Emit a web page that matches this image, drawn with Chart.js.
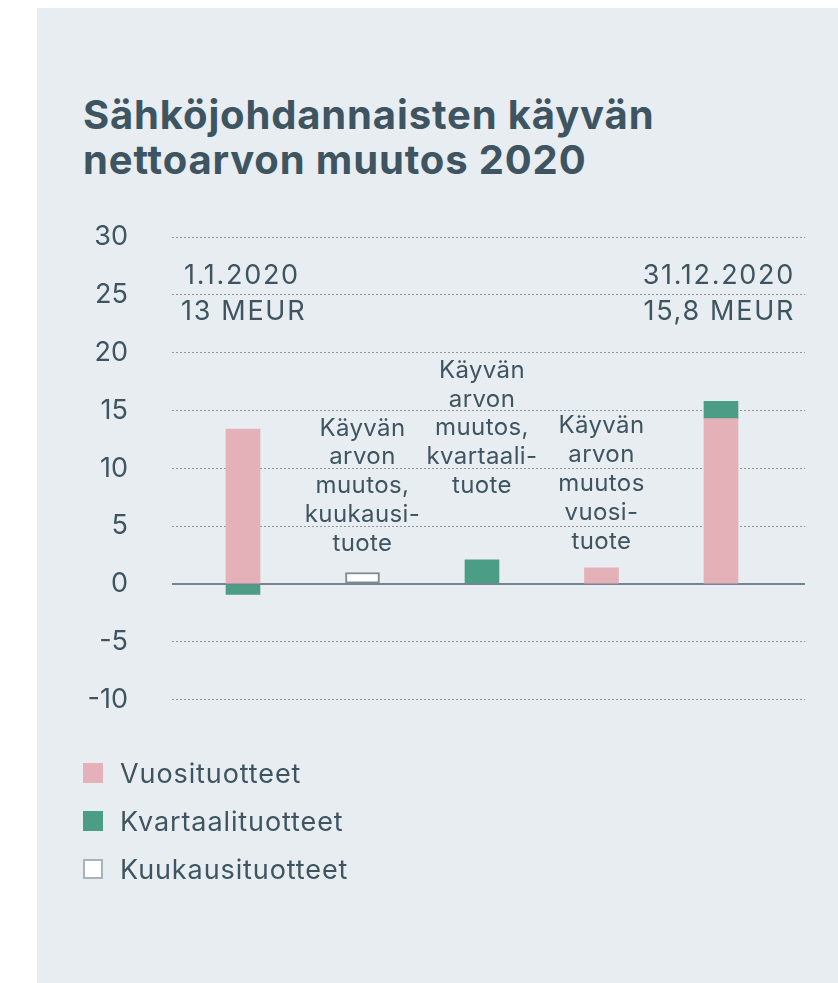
<!DOCTYPE html>
<html>
<head>
<meta charset="utf-8">
<script src="https://cdn.jsdelivr.net/npm/chart.js@4/dist/chart.umd.min.js"></script>
<style>
  body { margin: 0; background: #fff; font-family: Inter, "Noto Sans", sans-serif; color: #3e5561; }
  #panel { position: absolute; left: 37px; top: 8px; width: 801px; height: 975px; background: #e8edf1; }
  #title { position: absolute; left: 83px; top: 92px; font-size: 40px; font-weight: 700; line-height: 45px; letter-spacing: 0.85px; }
  #wrap { position: absolute; left: 0; top: 0; width: 838px; height: 760px; }
  #legend { position: absolute; left: 83px; top: 749px; font-size: 27px; letter-spacing: 0.9px; }
  .item { display: flex; align-items: center; height: 48px; }
  .box { width: 20px; height: 20px; margin-right: 17px; box-sizing: border-box; }
</style>
</head>
<body>
<div id="panel"></div>
<div id="title">Sähköjohdannaisten käyvän<br>nettoarvon muutos 2020</div>
<div id="wrap"><canvas id="chart"></canvas></div>
<div id="legend"></div>
<script>
// values in MEUR
const categories = ['1.1.2020', 'Kuukausituote', 'Kvartaalituote', 'Vuosituote', '31.12.2020'];
const vuosituotteet = [13.4, null, null, 1.4, 14.3];
const kvartaalituotteet = [-0.9, null, 2.1, null, 1.5];
const kuukausituotteet = [null, 1.0, null, null, null];
const yTicks = [30, 25, 20, 15, 10, 5, 0, -5, -10];

const startLabel = ['1.1.2020', '13 MEUR'];
const endLabel = ['31.12.2020', '15,8 MEUR'];
const barNotes = [
    [],
    ['Käyvän', 'arvon', 'muutos,', 'kuukausi-', 'tuote'],
    ['Käyvän', 'arvon', 'muutos,', 'kvartaali-', 'tuote'],
    ['Käyvän', 'arvon', 'muutos', 'vuosi-', 'tuote'],
    []
];

const textColor = '#3e5561';
const pink = '#e5b1b9';
const green = '#4b9d86';

function toPoints(arr) {
    return arr.map((v, i) => ({ x: i + 1, y: v }));
}

// draws the date labels and the notes above the middle bars
const notesPlugin = {
    id: 'notes',
    afterDatasetsDraw(chart) {
        const { ctx, chartArea, scales } = chart;
        const y = scales.y, x = scales.x;
        ctx.save();
        ctx.fillStyle = textColor;
        ctx.font = '27px Inter, "Noto Sans", sans-serif';
        ctx.textBaseline = 'middle';
        ctx.letterSpacing = '1.7px';

        ctx.textAlign = 'left';
        ctx.fillText(startLabel[0], chartArea.left + 12, y.getPixelForValue(26.6));
        ctx.fillText(startLabel[1], chartArea.left + 9, y.getPixelForValue(23.5));
        ctx.textAlign = 'right';
        ctx.fillText(endLabel[0], chartArea.right - 10, y.getPixelForValue(26.6));
        ctx.fillText(endLabel[1], chartArea.right - 10, y.getPixelForValue(23.5));

        // bottom line of each note, in axis units
        const noteBase = [0, 3.5, 8.5, 3.7, 0];
        ctx.textAlign = 'center';
        ctx.letterSpacing = '0.4px';
        ctx.font = '24px Inter, "Noto Sans", sans-serif';
        barNotes.forEach((lines, i) => {
            const cx = x.getPixelForValue(i + 1);
            const base = y.getPixelForValue(noteBase[i]);
            lines.forEach((line, j) => {
                ctx.fillText(line, cx, base - (lines.length - 1 - j) * 28.8);
            });
        });
        ctx.restore();
    }
};

new Chart(document.getElementById('chart'), {
    type: 'bar',
    data: {
        datasets: [
            { label: 'Vuosituotteet', data: toPoints(vuosituotteet), backgroundColor: pink, borderWidth: 0 },
            { label: 'Kvartaalituotteet', data: toPoints(kvartaalituotteet), backgroundColor: green, borderWidth: 0 },
            { label: 'Kuukausituotteet', data: toPoints(kuukausituotteet), backgroundColor: '#ffffff',
              borderColor: '#7b8c94', borderWidth: 2, borderSkipped: false }
        ]
    },
    options: {
        responsive: true,
        maintainAspectRatio: false,
        animation: false,
        barThickness: 34,
        layout: { padding: { left: 37, right: 33, top: 237, bottom: 57 } },
        plugins: {
            legend: { display: false },
            tooltip: { enabled: false }
        },
        scales: {
            x: {
                type: 'linear',
                display: false,
                stacked: true,
                offset: false,
                min: 0.406,
                max: 5.703
            },
            y: {
                stacked: true,
                min: -10,
                max: 30,
                afterFit(scale) { scale.width = 135; },
                afterBuildTicks(scale) { scale.ticks = yTicks.map(v => ({ value: v })); },
                ticks: {
                    color: textColor,
                    padding: 44,
                    font: { family: 'Inter, "Noto Sans", sans-serif', size: 27 }
                },
                grid: {
                    drawTicks: false,
                    color: ctx => ctx.tick && ctx.tick.value === 0 ? '#73848d' : '#8a979e',
                    lineWidth: ctx => ctx.tick && ctx.tick.value === 0 ? 2 : 1
                },
                border: {
                    display: false,
                    dash: ctx => ctx.tick && ctx.tick.value === 0 ? [] : [2, 2]
                }
            }
        }
    },
    plugins: [notesPlugin]
});

// legend
const legendItems = [
    { label: 'Vuosituotteet', fill: pink, border: pink },
    { label: 'Kvartaalituotteet', fill: green, border: green },
    { label: 'Kuukausituotteet', fill: '#ffffff', border: '#a8b4ba' }
];
document.getElementById('legend').innerHTML = legendItems.map(it =>
    `<div class="item"><span class="box" style="background:${it.fill};border:2px solid ${it.border}"></span>${it.label}</div>`
).join('');
</script>
</body>
</html>
